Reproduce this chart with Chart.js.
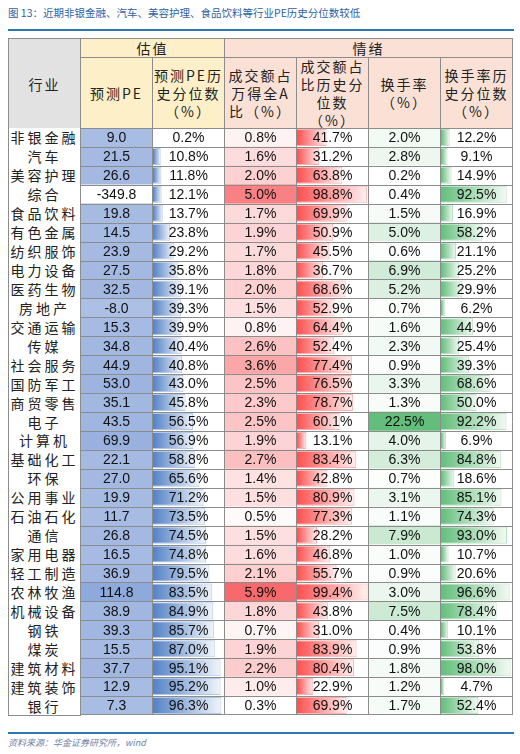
<!DOCTYPE html>
<html>
<head>
<meta charset="utf-8">
<script src="https://cdn.jsdelivr.net/npm/chart.js@4"></script>
<style>
  body { margin: 0; background: #fff; width: 520px; height: 754px; position: relative; overflow: hidden;
         font-family: "Liberation Sans", Arial, sans-serif; }
  .abs { position: absolute; box-sizing: border-box; }
  .title { left: 8px; top: 5px; font-size: 10.5px; color: #2f5fa6; font-family: "Noto Sans CJK SC", sans-serif; }
  .rule { left: 8px; width: 506px; height: 2px; background: #2e75b6; }
  .hd { border: 1px solid #8c8c8c; display: flex; align-items: center; justify-content: center; text-align: center;
        font-family: "Noto Sans CJK SC", sans-serif; font-size: 14px; color: #222; line-height: 18px; letter-spacing: 2px; }
  .ind { border: 1px solid #8c8c8c; border-top: none; display: flex; align-items: center; justify-content: center;
         font-family: "Noto Sans CJK SC", sans-serif; font-size: 14px; color: #222; letter-spacing: 3px; background: #fff; }
  .src { left: 8px; top: 736px; font-size: 9px; color: #6f7fa8; font-style: italic; font-family: "Noto Sans CJK SC", sans-serif; }
  canvas { display: block; }
</style>
</head>
<body>
<div class="abs title">图 13：近期非银金融、汽车、美容护理、食品饮料等行业PE历史分位数较低</div>
<div class="abs rule" style="top:29px"></div>

<div class="abs hd" style="left:8px;top:38px;width:73px;height:91px;background:#e2e2e2">行业</div>
<div class="abs hd" style="left:80px;top:38px;width:145px;height:20px;background:#fdf0c8">估值</div>
<div class="abs hd" style="left:224px;top:38px;width:289px;height:20px;background:#fbe1d5">情绪</div>
<div class="abs hd" style="left:80px;top:57px;width:73px;height:72px;background:#fdf0c8">预测PE</div>
<div class="abs hd" style="left:152px;top:57px;width:73px;height:72px;background:#fdf0c8">预测PE历<br>史分位数<br>（%）</div>
<div class="abs hd" style="left:224px;top:57px;width:73px;height:72px;background:#fbe1d5">成交额占<br>万得全A<br>比（%）</div>
<div class="abs hd" style="left:296px;top:57px;width:73px;height:72px;background:#fbe1d5">成交额占<br>比历史分<br>位数<br>（%）</div>
<div class="abs hd" style="left:368px;top:57px;width:73px;height:72px;background:#fbe1d5">换手率<br>（%）</div>
<div class="abs hd" style="left:440px;top:57px;width:73px;height:72px;background:#fbe1d5">换手率历<br>史分位数<br>（%）</div>

<div id="rows"></div>
<div id="cols"></div>

<div class="abs rule" style="top:732px;height:1.5px"></div>
<div class="abs src">资料来源：华金证券研究所，wind</div>

<script>
// Data
const industries = ['非银金融','汽车','美容护理','综合','食品饮料','有色金属','纺织服饰','电力设备','医药生物','房地产',
  '交通运输','传媒','社会服务','国防军工','商贸零售','电子','计算机','基础化工','环保','公用事业',
  '石油石化','通信','家用电器','轻工制造','农林牧渔','机械设备','钢铁','煤炭','建筑材料','建筑装饰','银行'];
const pe = [9.0,21.5,26.6,-349.8,19.8,14.5,23.9,27.5,32.5,-8.0,15.3,34.8,44.9,53.0,35.1,43.5,69.9,22.1,27.0,19.9,11.7,26.8,16.5,36.9,114.8,38.9,39.3,15.5,37.7,12.9,7.3];
const pePct = [0.2,10.8,11.8,12.1,13.7,23.8,29.2,35.8,39.1,39.3,39.9,40.4,40.8,43.0,45.8,56.5,56.9,58.8,65.6,71.2,73.5,74.5,74.8,79.5,83.5,84.9,85.7,87.0,95.1,95.2,96.3];
const amtShare = [0.8,1.6,2.0,5.0,1.7,1.9,1.7,1.8,2.0,1.5,0.8,2.6,3.6,2.5,2.3,2.5,1.9,2.7,1.4,1.5,0.5,1.5,1.6,2.1,5.9,1.8,0.7,1.9,2.2,1.0,0.3];
const amtPct = [41.7,31.2,63.8,98.8,69.9,50.9,45.5,36.7,68.6,52.9,64.4,52.4,77.4,76.5,78.7,60.1,13.1,83.4,42.8,80.9,77.3,28.2,46.8,55.7,99.4,43.8,31.0,83.9,80.4,22.9,69.9];
const turnover = [2.0,2.8,0.2,0.4,1.5,5.0,0.6,6.9,5.2,0.7,1.6,2.3,0.9,3.3,1.3,22.5,4.0,6.3,0.7,3.1,1.1,7.9,1.0,0.9,3.0,7.5,0.4,0.9,1.8,1.2,1.7];
const turnPct = [12.2,9.1,14.9,92.5,16.9,58.2,21.1,25.2,29.9,6.2,44.9,25.4,39.3,68.6,50.0,92.2,6.9,84.8,18.6,85.1,74.3,93.0,10.7,20.6,96.6,78.4,10.1,53.8,98.0,4.7,52.4];

const TOP = 128, ROWS_H = 587, COL_W = 73;
const colX = [80, 152, 224, 296, 368, 440];

// industry column
const rowH = ROWS_H / industries.length;
document.getElementById('rows').innerHTML = industries.map((name, i) =>
  `<div class="abs ind" style="left:8px;top:${TOP + i * rowH}px;width:73px;height:${rowH + 1}px">${name}</div>`
).join('');

// Helpers
function mix(rgb, t) {
  t = Math.max(0, Math.min(1, t));
  const c = rgb.map(v => Math.round(255 - (255 - v) * t));
  return `rgb(${c[0]},${c[1]},${c[2]})`;
}

const cellText = {
  id: 'cellText',
  afterDatasetsDraw(chart, args, opts) {
    const { ctx, chartArea } = chart;
    const yScale = chart.scales.y;
    ctx.save();
    ctx.font = '14px "Liberation Sans", Arial, sans-serif';
    ctx.fillStyle = '#111';
    ctx.textAlign = 'center';
    ctx.textBaseline = 'middle';
    opts.values.forEach((v, i) => {
      ctx.fillText(opts.fmt(v), (chartArea.left + chartArea.right) / 2, yScale.getPixelForValue(i) + 1);
    });
    // grid
    ctx.strokeStyle = '#8c8c8c';
    ctx.lineWidth = 1;
    const h = chart.height;
    for (let i = 0; i <= opts.values.length; i++) {
      const y = Math.round(i * h / opts.values.length) + 0.5;
      ctx.beginPath(); ctx.moveTo(0, Math.min(y, h - 0.5)); ctx.lineTo(chart.width, Math.min(y, h - 0.5)); ctx.stroke();
    }
    ctx.beginPath(); ctx.moveTo(0.5, 0); ctx.lineTo(0.5, h); ctx.stroke();
    ctx.beginPath(); ctx.moveTo(chart.width - 0.5, 0); ctx.lineTo(chart.width - 0.5, h); ctx.stroke();
    ctx.restore();
  }
};

// colour-scale column: full-width cell coloured by value
function heatColumn(x, values, rgb, fmt) {
  const lo = Math.min(...values), hi = Math.max(...values);
  makeChart(x, {
    data: values.map(() => [0, 1]),
    backgroundColor: values.map(v => mix(rgb, (v - lo) / (hi - lo))),
    barPercentage: 1, categoryPercentage: 1, borderWidth: 0
  }, 1, values, fmt);
}

// data-bar column: gradient bar length by value
function barColumn(x, values, rgb, fmt) {
  makeChart(x, {
    data: values,
    backgroundColor: (c) => {
      const chart = c.chart;
      if (!chart.chartArea || c.dataIndex === undefined) return mix(rgb, 1);
      const xs = chart.scales.x;
      const x0 = xs.getPixelForValue(0), x1 = xs.getPixelForValue(values[c.dataIndex]);
      const g = chart.ctx.createLinearGradient(x0, 0, Math.max(x1, x0 + 1), 0);
      g.addColorStop(0, mix(rgb, 1));
      g.addColorStop(1, mix(rgb, 0.08));
      return g;
    },
    borderColor: mix(rgb, 0.45),
    borderWidth: 1,
    borderSkipped: 'left',
    barPercentage: 0.9, categoryPercentage: 1
  }, 100, values, fmt);
}

function makeChart(x, dataset, xMax, values, fmt) {
  const cv = document.createElement('canvas');
  const wrap = document.createElement('div');
  wrap.className = 'abs';
  wrap.style.cssText = `left:${x}px;top:${TOP}px;width:${COL_W}px;height:${ROWS_H}px`;
  wrap.appendChild(cv);
  document.getElementById('cols').appendChild(wrap);
  new Chart(cv, {
    type: 'bar',
    data: { labels: industries, datasets: [dataset] },
    options: {
      indexAxis: 'y',
      responsive: true, maintainAspectRatio: false, animation: false,
      layout: { padding: { left: 1, right: 1 } },
      scales: {
        x: { display: false, min: 0, max: xMax },
        y: { display: false }
      },
      plugins: { legend: { display: false }, tooltip: { enabled: false },
                 cellText: { values, fmt } }
    },
    plugins: [cellText]
  });
}

const pct = v => v.toFixed(1) + '%';
heatColumn(colX[0], pe, [142, 169, 219], v => v.toFixed(1));
barColumn(colX[1], pePct, [84, 130, 198], pct);
heatColumn(colX[2], amtShare, [248, 105, 107], pct);
barColumn(colX[3], amtPct, [255, 80, 80], pct);
heatColumn(colX[4], turnover, [99, 190, 123], pct);
barColumn(colX[5], turnPct, [99, 190, 123], pct);
</script>
</body>
</html>
